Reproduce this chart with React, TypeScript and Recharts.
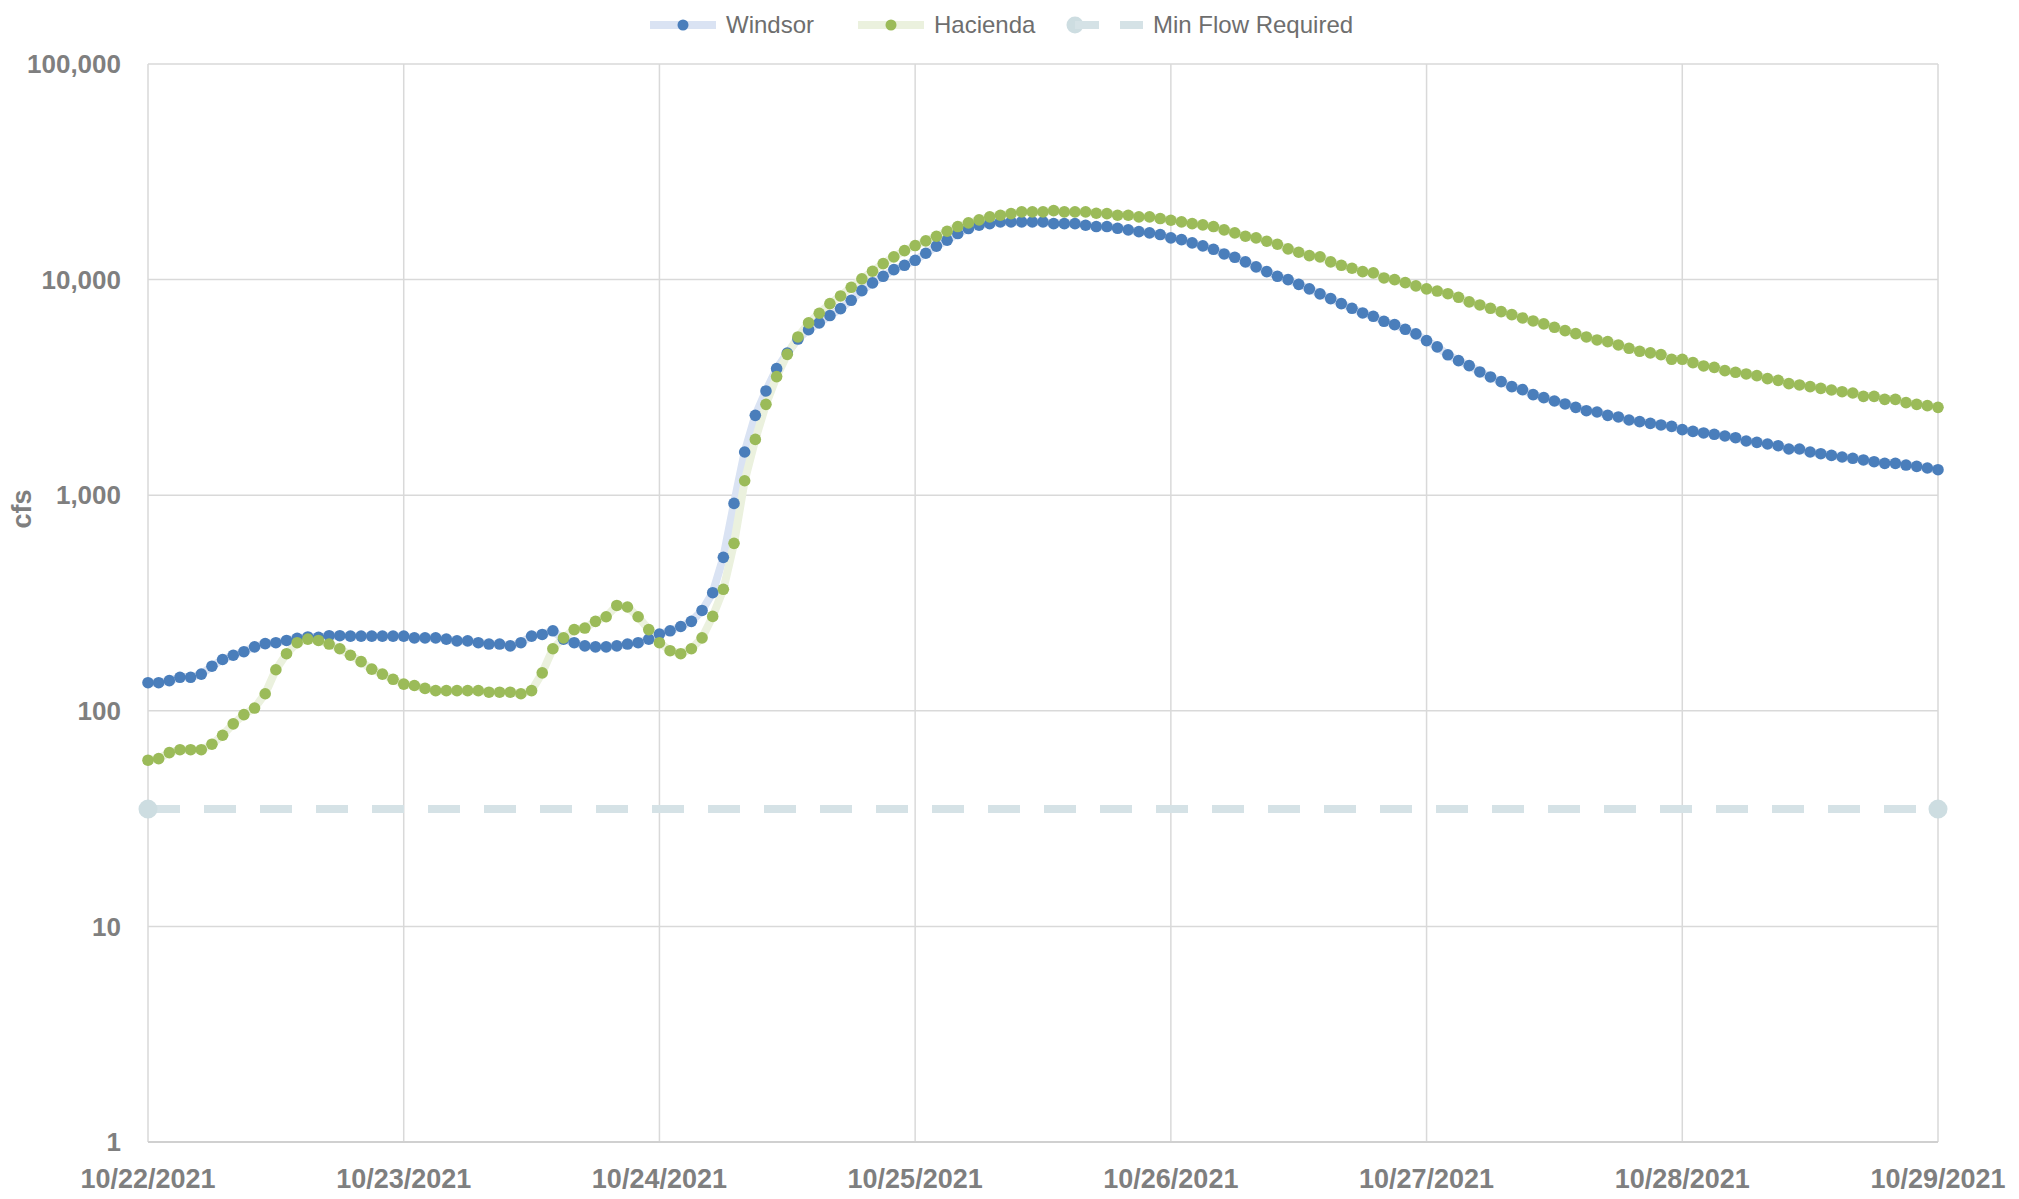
import { LineChart, Line, XAxis, YAxis, CartesianGrid } from "recharts";

// hourly flow readings, 10/22/2021 00:00 through 10/29/2021 00:00
const windsorCfs = [
  135, 135, 138, 143, 143, 148, 161, 173, 181, 188, 198, 205, 207, 212, 217, 220, 219, 223, 223, 222, 222, 222, 222, 222,
  222, 218, 218, 218, 215, 211, 211, 207, 204, 204, 200, 207, 222, 226, 235, 215, 207, 200, 198, 198, 200, 204, 207, 215,
  227, 235, 246, 260, 292, 353, 515, 916, 1586, 2346, 3044, 3864, 4566, 5300, 5861, 6296, 6810, 7336, 8017, 8892, 9654, 10360, 11130, 11650,
  12290, 13250, 14300, 15220, 16350, 17250, 17870, 18190, 18520, 18520, 18520, 18520, 18520, 18190, 18190, 18190, 17870, 17620, 17620, 17300, 17010, 16700, 16470, 16180,
  15610, 15330, 14800, 14330, 13820, 13150, 12690, 12080, 11450, 10890, 10360, 10000, 9506, 9057, 8583, 8163, 7737, 7360, 7005, 6758, 6407, 6182, 5883, 5598,
  5212, 4873, 4480, 4209, 3990, 3730, 3536, 3363, 3187, 3088, 2927, 2834, 2735, 2650, 2556, 2466, 2432, 2346, 2306, 2233, 2193, 2154, 2117, 2086,
  2014, 1977, 1944, 1916, 1882, 1848, 1784, 1758, 1728, 1697, 1638, 1638, 1586, 1558, 1530, 1504, 1483, 1457, 1430, 1405, 1405, 1380, 1361, 1337,
  1313,
];

const haciendaCfs = [
  59, 60, 64, 66, 66, 66, 70, 77, 87, 96, 103, 120, 155, 184, 207, 215, 212, 204, 194, 181, 169, 156, 148, 140,
  133, 131, 127, 124, 124, 124, 124, 124, 122, 122, 122, 120, 124, 150, 194, 218, 238, 242, 260, 273, 308, 303, 273, 238,
  207, 190, 184, 194, 218, 274, 366, 598, 1167, 1815, 2638, 3548, 4502, 5420, 6296, 6980, 7740, 8400, 9211, 10074, 10930, 11866, 12745, 13632,
  14384, 15120, 15887, 16760, 17620, 18330, 18920, 19540, 19880, 20240, 20610, 20610, 20610, 20900, 20610, 20610, 20610, 20310, 20240, 19880, 19880, 19540, 19540, 19190,
  18850, 18520, 18190, 17940, 17620, 17010, 16470, 15887, 15610, 15060, 14590, 13880, 13390, 12920, 12745, 12080, 11650, 11290, 10890, 10740, 10180, 10000, 9683, 9348,
  9057, 8850, 8600, 8279, 7880, 7630, 7362, 7104, 6880, 6640, 6431, 6229, 6008, 5799, 5617, 5420, 5248, 5157, 4977, 4800, 4650, 4571, 4488, 4268,
  4268, 4120, 3977, 3918, 3782, 3715, 3651, 3585, 3472, 3410, 3291, 3246, 3187, 3130, 3076, 3020, 2979, 2874, 2874, 2783, 2783, 2687, 2639, 2602,
  2556,
];

const minFlowCfs = 35;

const dateLabels = [
  "10/22/2021", "10/23/2021", "10/24/2021", "10/25/2021",
  "10/26/2021", "10/27/2021", "10/28/2021", "10/29/2021",
];

const yTicks = [1, 10, 100, 1000, 10000, 100000];

const rows = windsorCfs.map((w, i) => ({ hour: i, windsor: w, hacienda: haciendaCfs[i] }));
const lastHour = windsorCfs.length - 1;
const minFlowRows = [
  { hour: 0, minFlow: minFlowCfs },
  { hour: lastHour, minFlow: minFlowCfs },
];
const dayTicks = dateLabels.map((_, i) => i * 24);

const FONT = "'Liberation Sans', Arial, sans-serif";
const AXIS_GRAY = "#7f7f7f";

function LegendItem({ left, icon, text }: { left: number; icon: React.ReactNode; text: string }) {
  return (
    <div style={{ position: "absolute", left, top: 8, height: 34, display: "flex", alignItems: "center" }}>
      {icon}
      <span style={{ marginLeft: 10, fontFamily: FONT, fontSize: 24, color: "#6e6e6e" }}>{text}</span>
    </div>
  );
}

function SeriesIcon({ line, dot }: { line: string; dot: string }) {
  return (
    <svg width={66} height={20}>
      <line x1={0} y1={10} x2={66} y2={10} stroke={line} strokeWidth={8} />
      <circle cx={33} cy={10} r={5.5} fill={dot} />
    </svg>
  );
}

function MinFlowIcon() {
  return (
    <svg width={77} height={20}>
      <circle cx={9} cy={10} r={8.5} fill="#cddde1" />
      <line x1={9} y1={10} x2={33} y2={10} stroke="#d5e2e6" strokeWidth={8} />
      <line x1={54} y1={10} x2={77} y2={10} stroke="#d5e2e6" strokeWidth={8} />
    </svg>
  );
}

export default function App() {
  return (
    <div style={{ position: "absolute", left: 0, top: 0, width: 2019, height: 1199, background: "#fff" }}>
      <LineChart
        width={2019}
        height={1199}
        margin={{ top: 64, right: 81, bottom: 7, left: 0 }}
      >
        <CartesianGrid stroke="#d9d9d9" strokeWidth={1.5} />
        <XAxis
          dataKey="hour"
          type="number"
          domain={[0, lastHour]}
          ticks={dayTicks}
          tickFormatter={(h: number) => dateLabels[h / 24]}
          tick={{ fontSize: 27, fontWeight: 700, fill: AXIS_GRAY, fontFamily: FONT }}
          tickLine={false}
          tickSize={0}
          tickMargin={27}
          axisLine={{ stroke: "#d0d0d0", strokeWidth: 2 }}
          height={50}
          interval={0}
        />
        <YAxis
          type="number"
          scale="log"
          domain={[1, 100000]}
          ticks={yTicks}
          tickFormatter={(v: number) => v.toLocaleString("en-US")}
          tick={{ fontSize: 26, fontWeight: 700, fill: AXIS_GRAY, fontFamily: FONT }}
          tickLine={false}
          tickSize={0}
          tickMargin={27}
          axisLine={false}
          width={148}
          interval={0}
        />
        <Line
          data={rows}
          dataKey="windsor"
          type="linear"
          stroke="#dae3f3"
          strokeWidth={8}
          dot={{ r: 5.8, fill: "#4a7ebb", stroke: "none", strokeWidth: 0 }}
          activeDot={false}
          isAnimationActive={false}
        />
        <Line
          data={rows}
          dataKey="hacienda"
          type="linear"
          stroke="#ebf1de"
          strokeWidth={8}
          dot={{ r: 5.8, fill: "#9bbb59", stroke: "none", strokeWidth: 0 }}
          activeDot={false}
          isAnimationActive={false}
        />
        <Line
          data={minFlowRows}
          dataKey="minFlow"
          type="linear"
          stroke="#d5e2e6"
          strokeWidth={8}
          strokeDasharray="32 24"
          dot={{ r: 9.5, fill: "#cddde1", stroke: "none", strokeWidth: 0 }}
          activeDot={false}
          isAnimationActive={false}
        />
      </LineChart>
      <div
        style={{
          position: "absolute",
          left: 22,
          top: 509,
          transform: "translate(-50%, -50%) rotate(-90deg)",
          fontFamily: FONT,
          fontSize: 27,
          fontWeight: 700,
          color: AXIS_GRAY,
          whiteSpace: "nowrap",
        }}
      >
        cfs
      </div>
      <LegendItem left={650} icon={<SeriesIcon line="#dae3f3" dot="#4a7ebb" />} text="Windsor" />
      <LegendItem left={858} icon={<SeriesIcon line="#ebf1de" dot="#9bbb59" />} text="Hacienda" />
      <LegendItem left={1066} icon={<MinFlowIcon />} text="Min Flow Required" />
    </div>
  );
}
